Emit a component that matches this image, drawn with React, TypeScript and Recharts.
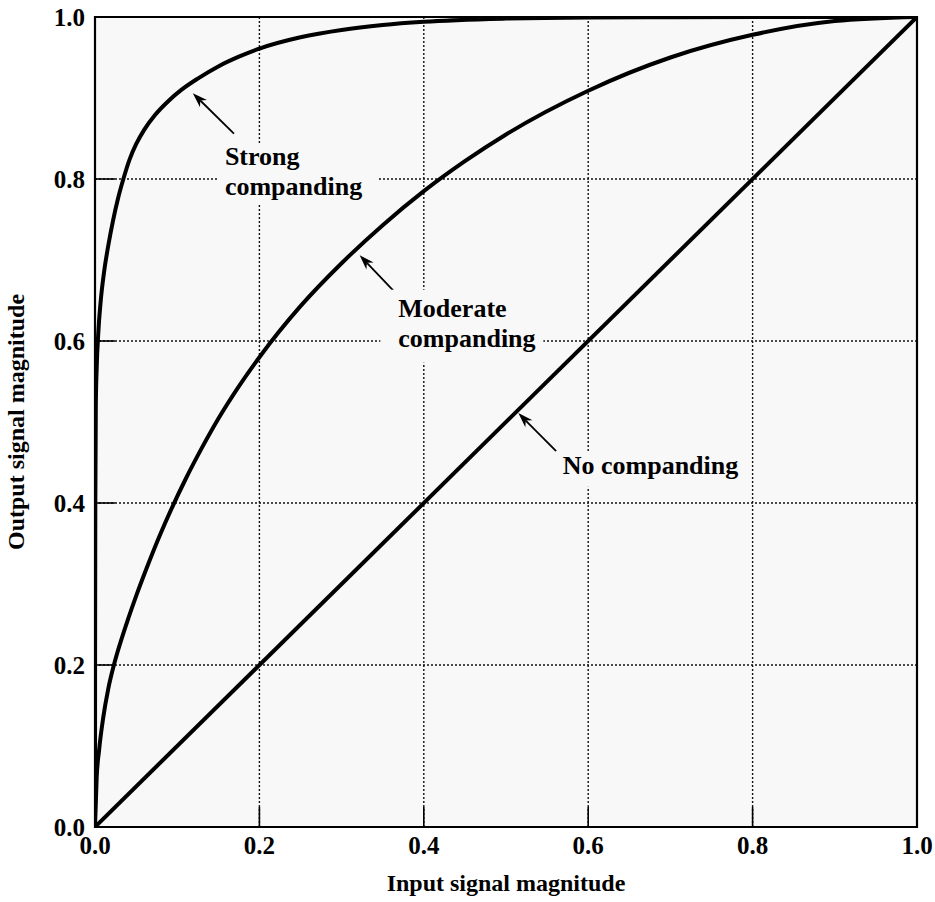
import React from 'react';
import { LineChart, Line, XAxis, YAxis, CartesianGrid, ReferenceArea, ReferenceLine, ReferenceDot, Label } from 'recharts';

// ---- data ----
const axisTicks = [0, 0.2, 0.4, 0.6, 0.8, 1.0];
const innerTicks = [0.2, 0.4, 0.6, 0.8];

const noCompandingX = [0, 1];
const noCompandingY = [0, 1];

const moderateX = [0, 0.002, 0.005, 0.01, 0.016, 0.023, 0.031, 0.04, 0.05, 0.063, 0.078, 0.094, 0.11, 0.13, 0.15, 0.175, 0.2, 0.25, 0.3, 0.35, 0.4, 0.45, 0.5, 0.6, 0.7, 0.8, 0.9, 1.0];
const moderateY = [0, 0.06, 0.095, 0.135, 0.17, 0.2, 0.228, 0.256, 0.285, 0.32, 0.358, 0.395, 0.429, 0.468, 0.504, 0.544, 0.58, 0.643, 0.696, 0.743, 0.785, 0.822, 0.855, 0.909, 0.95, 0.978, 0.995, 1.0];

const strongX = [0, 0.0001, 0.0004, 0.001, 0.002, 0.004, 0.007, 0.011, 0.016, 0.022, 0.028, 0.0345, 0.042, 0.05, 0.06, 0.073, 0.09, 0.105, 0.125, 0.15, 0.175, 0.2, 0.25, 0.3, 0.35, 0.4, 0.5, 0.6, 0.7, 0.85, 1.0];
const strongY = [0, 0.2, 0.4, 0.52, 0.565, 0.61, 0.65, 0.685, 0.717, 0.749, 0.776, 0.8, 0.824, 0.843, 0.861, 0.879, 0.897, 0.91, 0.924, 0.939, 0.951, 0.961, 0.975, 0.984, 0.99, 0.994, 0.998, 0.9995, 0.9998, 1.0, 1.0];

const xTitle = 'Input signal magnitude';
const yTitle = 'Output signal magnitude';

// annotation text anchors (data coords) and arrows [tail, tip]
const strongLabel = { x: 0.158, y: 0.817, lines: ['Strong', 'companding'] };
const moderateLabel = { x: 0.369, y: 0.63, lines: ['Moderate', 'companding'] };
const noLabel = { x: 0.569, y: 0.436, lines: ['No companding'] };

const strongArrow = [{ x: 0.169, y: 0.856 }, { x: 0.119, y: 0.906 }];
const moderateArrow = [{ x: 0.365, y: 0.66 }, { x: 0.322, y: 0.706 }];
const noArrow = [{ x: 0.561, y: 0.464 }, { x: 0.515, y: 0.511 }];

const toPoints = (xs: number[], ys: number[]) => xs.map((x, i) => ({ x, y: ys[i] }));
const strongData = toPoints(strongX, strongY);
const moderateData = toPoints(moderateX, moderateY);
const noData = toPoints(noCompandingX, noCompandingY);

const FONT = "'Liberation Serif', 'Times New Roman', serif";
const BG = '#f8f8f8';
const TICK_LEN_X = 0.0243;
const TICK_LEN_Y = 0.0247;

const ArrowShape = (props: any) => {
  const { x1, y1, x2, y2 } = props;
  const ang = Math.atan2(y2 - y1, x2 - x1);
  const len = 15;
  const hw = 5;
  const bx = x2 - len * Math.cos(ang);
  const by = y2 - len * Math.sin(ang);
  const nx = -Math.sin(ang);
  const ny = Math.cos(ang);
  const notchX = x2 - len * 0.7 * Math.cos(ang);
  const notchY = y2 - len * 0.7 * Math.sin(ang);
  const pts = `${x2},${y2} ${bx + nx * hw},${by + ny * hw} ${notchX},${notchY} ${bx - nx * hw},${by - ny * hw}`;
  return (
    <g>
      <line x1={x1} y1={y1} x2={notchX} y2={notchY} stroke="#000" strokeWidth={1.8} />
      <polygon points={pts} fill="#000" />
    </g>
  );
};

const makeTextShape = (lines: string[], box: { dx: number; dy: number; w: number; h: number }) => (props: any) => {
  const { cx, cy } = props;
  return (
    <g>
      <rect x={cx + box.dx} y={cy + box.dy} width={box.w} height={box.h} fill={BG} />
      <text x={cx} y={cy} fontFamily={FONT} fontWeight="bold" fontSize={26} fill="#000">
        {lines.map((l, i) => (
          <tspan key={i} x={cx} dy={i === 0 ? 0 : 30}>{l}</tspan>
        ))}
      </text>
    </g>
  );
};

const StrongText = makeTextShape(strongLabel.lines, { dx: -7, dy: -21, w: 160, h: 60 });
const ModerateText = makeTextShape(moderateLabel.lines, { dx: -18, dy: -27, w: 163, h: 73 });
const NoText = makeTextShape(noLabel.lines, { dx: -8, dy: -22, w: 190, h: 35 });

const XTitle = (props: any) => {
  const vb = props.viewBox;
  return (
    <text x={vb.x + vb.width / 2} y={vb.y + 58} textAnchor="middle" dominantBaseline="middle"
      fontFamily={FONT} fontWeight="bold" fontSize={24} fill="#000">{xTitle}</text>
  );
};

const YTitle = (props: any) => {
  const vb = props.viewBox;
  const cx = 18;
  const cy = vb.y + vb.height / 2;
  return (
    <text x={cx} y={cy} textAnchor="middle" dominantBaseline="middle" transform={`rotate(-90 ${cx} ${cy})`}
      fontFamily={FONT} fontWeight="bold" fontSize={24} fill="#000">{yTitle}</text>
  );
};

const tickStyle = { fontFamily: FONT, fontWeight: 'bold', fontSize: 25, fill: '#000' } as any;

export default function App() {
  return (
    <div style={{ position: 'absolute', left: 0, top: 0, background: '#fff' }}>
      <LineChart width={935} height={902} margin={{ top: 17, right: 18, bottom: 0, left: 0 }}>
        <CartesianGrid stroke="#111" strokeDasharray="2 2" strokeWidth={1.4} fill={BG} />
        <XAxis
          type="number"
          dataKey="x"
          domain={[0, 1]}
          ticks={axisTicks}
          allowDataOverflow
          tickFormatter={(v: number) => v.toFixed(1)}
          height={75}
          axisLine={false}
          tickSize={-20}
          tickMargin={29}
          tickLine={false}
          tick={tickStyle}
          interval={0}
        >
          <Label content={XTitle} />
        </XAxis>
        <YAxis
          type="number"
          dataKey="y"
          domain={[0, 1]}
          ticks={axisTicks}
          allowDataOverflow
          tickFormatter={(v: number) => v.toFixed(1)}
          width={95}
          axisLine={false}
          tickSize={-20}
          tickMargin={30}
          tickLine={false}
          tick={tickStyle}
          interval={0}
        >
          <Label content={YTitle} />
        </YAxis>
        <ReferenceArea x1={0} x2={1} y1={0} y2={1} fill="none" stroke="#000" strokeWidth={2.2} fillOpacity={0} />
        {innerTicks.map((t) => (
          <ReferenceLine key={'yt' + t} segment={[{ x: 0, y: t }, { x: TICK_LEN_X, y: t }]} stroke="#000" strokeWidth={1.6} />
        ))}
        {innerTicks.map((t) => (
          <ReferenceLine key={'xt' + t} segment={[{ x: t, y: 0 }, { x: t, y: TICK_LEN_Y }]} stroke="#000" strokeWidth={1.6} />
        ))}
        <ReferenceDot x={strongLabel.x} y={strongLabel.y} r={0} shape={StrongText} />
        <ReferenceDot x={moderateLabel.x} y={moderateLabel.y} r={0} shape={ModerateText} />
        <ReferenceDot x={noLabel.x} y={noLabel.y} r={0} shape={NoText} />
        <Line data={noData} dataKey="y" type="linear" stroke="#000" strokeWidth={4} dot={false} isAnimationActive={false} />
        <Line data={moderateData} dataKey="y" type="monotone" stroke="#000" strokeWidth={4} dot={false} isAnimationActive={false} />
        <Line data={strongData} dataKey="y" type="monotone" stroke="#000" strokeWidth={4} dot={false} isAnimationActive={false} />
        <ReferenceLine segment={strongArrow} shape={ArrowShape} />
        <ReferenceLine segment={moderateArrow} shape={ArrowShape} />
        <ReferenceLine segment={noArrow} shape={ArrowShape} />
      </LineChart>
    </div>
  );
}
